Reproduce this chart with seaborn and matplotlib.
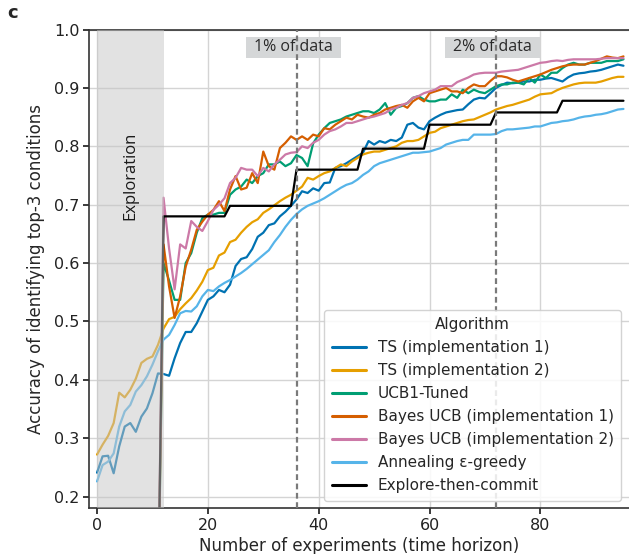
import numpy as np
import pandas as pd
import matplotlib
matplotlib.use("Agg")
import matplotlib.pyplot as plt
import seaborn as sns
from matplotlib.patches import Rectangle

# ------------------------------------------------------------
# Data
# ------------------------------------------------------------
experiments = list(range(96))

ts_impl1 = [
    0.241, 0.269, 0.270, 0.240, 0.286, 0.320, 0.326, 0.311, 0.337, 0.351,
    0.377, 0.411, 0.410, 0.407, 0.437, 0.463, 0.482, 0.482, 0.497, 0.517,
    0.537, 0.543, 0.554, 0.550, 0.563, 0.595, 0.607, 0.610, 0.624, 0.645,
    0.652, 0.665, 0.668, 0.680, 0.688, 0.698, 0.709, 0.723, 0.720, 0.728,
    0.724, 0.737, 0.738, 0.763, 0.766, 0.771, 0.777, 0.783, 0.789, 0.809,
    0.803, 0.809, 0.806, 0.811, 0.809, 0.815, 0.837, 0.840, 0.832, 0.829,
    0.843, 0.849, 0.854, 0.858, 0.860, 0.862, 0.863, 0.872, 0.880, 0.883,
    0.882, 0.891, 0.900, 0.905, 0.909, 0.908, 0.909, 0.911, 0.911, 0.914,
    0.914, 0.916, 0.917, 0.914, 0.911, 0.918, 0.923, 0.925, 0.926, 0.928,
    0.929, 0.931, 0.934, 0.937, 0.940, 0.938,
]

ts_impl2 = [
    0.272, 0.289, 0.304, 0.326, 0.378, 0.370, 0.383, 0.402, 0.429, 0.436,
    0.440, 0.460, 0.488, 0.504, 0.508, 0.521, 0.531, 0.540, 0.553, 0.568,
    0.588, 0.592, 0.613, 0.618, 0.636, 0.640, 0.652, 0.662, 0.670, 0.675,
    0.686, 0.692, 0.699, 0.706, 0.712, 0.717, 0.724, 0.731, 0.746, 0.743,
    0.749, 0.754, 0.757, 0.763, 0.769, 0.766, 0.774, 0.780, 0.786, 0.789,
    0.791, 0.791, 0.794, 0.797, 0.800, 0.806, 0.809, 0.809, 0.811, 0.817,
    0.823, 0.825, 0.831, 0.834, 0.837, 0.840, 0.843, 0.845, 0.846, 0.850,
    0.854, 0.858, 0.863, 0.866, 0.869, 0.871, 0.874, 0.877, 0.880, 0.885,
    0.889, 0.890, 0.891, 0.896, 0.900, 0.903, 0.906, 0.908, 0.909, 0.909,
    0.909, 0.911, 0.914, 0.917, 0.919, 0.919,
]

ucb1_tuned = [
    0.0, 0.0, 0.0, 0.0, 0.0, 0.0, 0.0, 0.0, 0.0, 0.0,
    0.0, 0.0, 0.600, 0.570, 0.537, 0.537, 0.600, 0.617, 0.652, 0.677,
    0.683, 0.683, 0.686, 0.686, 0.717, 0.726, 0.731, 0.743, 0.737, 0.749,
    0.754, 0.769, 0.769, 0.774, 0.766, 0.771, 0.785, 0.780, 0.766, 0.805,
    0.820, 0.831, 0.840, 0.843, 0.846, 0.851, 0.854, 0.857, 0.860, 0.860,
    0.857, 0.863, 0.874, 0.854, 0.866, 0.869, 0.874, 0.883, 0.886, 0.880,
    0.877, 0.877, 0.880, 0.880, 0.889, 0.883, 0.897, 0.891, 0.897, 0.893,
    0.891, 0.897, 0.903, 0.906, 0.906, 0.909, 0.909, 0.906, 0.917, 0.909,
    0.923, 0.917, 0.926, 0.926, 0.934, 0.940, 0.943, 0.940, 0.940, 0.943,
    0.943, 0.943, 0.946, 0.946, 0.946, 0.949,
]

bayes_ucb_impl1 = [
    0.0, 0.0, 0.0, 0.0, 0.0, 0.0, 0.0, 0.0, 0.0, 0.0,
    0.0, 0.0, 0.632, 0.560, 0.506, 0.543, 0.594, 0.623, 0.657, 0.671,
    0.683, 0.691, 0.706, 0.689, 0.726, 0.749, 0.726, 0.729, 0.754, 0.737,
    0.791, 0.766, 0.760, 0.797, 0.806, 0.817, 0.811, 0.817, 0.811, 0.820,
    0.817, 0.831, 0.829, 0.837, 0.843, 0.849, 0.846, 0.854, 0.851, 0.849,
    0.854, 0.857, 0.863, 0.866, 0.869, 0.871, 0.866, 0.877, 0.883, 0.877,
    0.891, 0.894, 0.897, 0.900, 0.894, 0.894, 0.891, 0.900, 0.906, 0.903,
    0.903, 0.912, 0.920, 0.920, 0.918, 0.914, 0.911, 0.914, 0.917, 0.920,
    0.923, 0.927, 0.931, 0.934, 0.937, 0.939, 0.940, 0.940, 0.940, 0.943,
    0.946, 0.950, 0.954, 0.952, 0.951, 0.954,
]

bayes_ucb_impl2 = [
    0.0, 0.0, 0.0, 0.0, 0.0, 0.0, 0.0, 0.0, 0.0, 0.0,
    0.0, 0.0, 0.712, 0.625, 0.555, 0.632, 0.625, 0.672, 0.662, 0.655,
    0.672, 0.691, 0.700, 0.711, 0.737, 0.746, 0.763, 0.760, 0.760, 0.749,
    0.763, 0.757, 0.769, 0.777, 0.786, 0.789, 0.790, 0.800, 0.797, 0.806,
    0.811, 0.820, 0.826, 0.829, 0.834, 0.840, 0.840, 0.843, 0.846, 0.849,
    0.851, 0.854, 0.857, 0.863, 0.866, 0.871, 0.874, 0.883, 0.886, 0.891,
    0.894, 0.897, 0.903, 0.903, 0.903, 0.910, 0.914, 0.918, 0.923, 0.925,
    0.926, 0.926, 0.926, 0.928, 0.929, 0.930, 0.931, 0.934, 0.937, 0.940,
    0.943, 0.944, 0.946, 0.947, 0.946, 0.948, 0.949, 0.949, 0.949, 0.949,
    0.949, 0.950, 0.951, 0.951, 0.951, 0.951,
]

annealing_eps = [
    0.226, 0.254, 0.260, 0.274, 0.320, 0.346, 0.357, 0.380, 0.391, 0.406,
    0.426, 0.449, 0.469, 0.477, 0.494, 0.514, 0.518, 0.517, 0.526, 0.543,
    0.554, 0.552, 0.560, 0.566, 0.571, 0.577, 0.583, 0.590, 0.598, 0.606,
    0.614, 0.622, 0.636, 0.648, 0.662, 0.674, 0.684, 0.692, 0.698, 0.702,
    0.706, 0.711, 0.717, 0.723, 0.729, 0.734, 0.737, 0.743, 0.751, 0.757,
    0.766, 0.771, 0.774, 0.777, 0.780, 0.783, 0.786, 0.789, 0.789, 0.790,
    0.791, 0.794, 0.797, 0.803, 0.806, 0.809, 0.811, 0.811, 0.820, 0.820,
    0.820, 0.820, 0.821, 0.826, 0.829, 0.829, 0.830, 0.831, 0.832, 0.834,
    0.834, 0.837, 0.840, 0.841, 0.843, 0.844, 0.846, 0.849, 0.851, 0.852,
    0.854, 0.855, 0.857, 0.860, 0.863, 0.864,
]

explore_then_commit = [
    0.0, 0.0, 0.0, 0.0, 0.0, 0.0, 0.0, 0.0, 0.0, 0.0,
    0.0, 0.0, 0.680, 0.680, 0.680, 0.680, 0.680, 0.680, 0.680, 0.680,
    0.680, 0.680, 0.680, 0.680, 0.698, 0.698, 0.698, 0.698, 0.698, 0.698,
    0.698, 0.698, 0.698, 0.698, 0.698, 0.698, 0.760, 0.760, 0.760, 0.760,
    0.760, 0.760, 0.760, 0.760, 0.760, 0.760, 0.760, 0.760, 0.796, 0.796,
    0.796, 0.796, 0.796, 0.796, 0.796, 0.796, 0.796, 0.796, 0.796, 0.796,
    0.837, 0.837, 0.837, 0.837, 0.837, 0.837, 0.837, 0.837, 0.837, 0.837,
    0.837, 0.837, 0.858, 0.858, 0.858, 0.858, 0.858, 0.858, 0.858, 0.858,
    0.858, 0.858, 0.858, 0.858, 0.878, 0.878, 0.878, 0.878, 0.878, 0.878,
    0.878, 0.878, 0.878, 0.878, 0.878, 0.878,
]

algorithms = [
    "TS (implementation 1)",
    "TS (implementation 2)",
    "UCB1-Tuned",
    "Bayes UCB (implementation 1)",
    "Bayes UCB (implementation 2)",
    "Annealing ε-greedy",
    "Explore-then-commit",
]
series = [ts_impl1, ts_impl2, ucb1_tuned, bayes_ucb_impl1,
          bayes_ucb_impl2, annealing_eps, explore_then_commit]
colors = ["#0072B2", "#E69F00", "#009E73", "#D55E00", "#CC79A7", "#56B4E9", "black"]

exploration_end = 12
data_marks = [36, 72]
data_labels = ["1% of data", "2% of data"]

# ------------------------------------------------------------
# Long-format table for seaborn
# ------------------------------------------------------------
df = pd.concat(
    [pd.DataFrame({"Experiments": experiments, "Accuracy": vals, "Algorithm": name})
     for name, vals in zip(algorithms, series)],
    ignore_index=True,
)
palette = dict(zip(algorithms, colors))

# ------------------------------------------------------------
# Plot
# ------------------------------------------------------------
sns.set_theme(style="whitegrid", rc={
    "axes.edgecolor": "#333333",
    "axes.linewidth": 1.2,
    "grid.color": "#d4d4d4",
    "grid.linewidth": 1.0,
    "xtick.bottom": True,
    "ytick.left": True,
    "xtick.color": "#222222",
    "ytick.color": "#222222",
    "xtick.major.size": 4,
    "ytick.major.size": 4,
})
plt.rcParams["font.family"] = ["DejaVu Sans"]

fig = plt.figure(figsize=(6.29, 5.54), dpi=100)
ax = fig.add_axes([0.1415, 0.0825, 0.8585, 0.8642])

sns.lineplot(data=df, x="Experiments", y="Accuracy", hue="Algorithm",
             hue_order=algorithms, palette=palette, linewidth=1.6, ax=ax)
# thicker black line for explore-then-commit
for line in ax.get_lines():
    if line.get_label() == algorithms[6]:
        line.set_linewidth(2.3)

# exploration phase shading (on top, lines underneath look faded)
ax.axvspan(0, exploration_end, color="#c6c6c6", alpha=0.5, lw=0, zorder=3)
ax.text(exploration_end / 2, 0.75, "Exploration", rotation=90, ha="center",
        va="center", fontsize=12, family=["Open Sans", "DejaVu Sans"],
        color="#1a1a1a", zorder=4)

# data fraction markers
for xm, lab in zip(data_marks, data_labels):
    ax.axvline(xm, color="#7a7a7a", lw=1.6, ls=(0, (2.6, 1.6)), zorder=5)
    ax.add_patch(Rectangle((xm - 0.6 - 8.6, 0.952), 17.2, 0.036,
                           facecolor="#d5d7d8", edgecolor="none", zorder=4))
    ax.text(xm - 0.6, 0.9695, lab, ha="center", va="center", fontsize=11.5,
            family=["Open Sans", "DejaVu Sans"], color="#2a2a2a", zorder=6)

ax.set_xlim(-1.45, 96.0)
ax.set_ylim(0.18, 1.0)
ax.set_xticks([0, 20, 40, 60, 80])
ax.set_yticks([0.2, 0.3, 0.4, 0.5, 0.6, 0.7, 0.8, 0.9, 1.0])
ax.tick_params(labelsize=11.5, pad=3)
ax.set_xlabel("Number of experiments (time horizon)", fontsize=12, labelpad=3)
ax.set_ylabel("Accuracy of identifying top-3 conditions", fontsize=12, labelpad=6)
ax.spines["right"].set_visible(False)

leg = ax.legend(title="Algorithm", loc="lower right", fontsize=11,
                title_fontsize=11, labelspacing=0.52, handlelength=2.2,
                borderpad=0.5, framealpha=0.85, edgecolor="#cccccc")
for h in leg.get_lines():
    h.set_linewidth(2.2)

fig.text(0.012, 0.968, "c", fontsize=13, fontweight="bold")

plt.savefig("out.png", dpi=100)
